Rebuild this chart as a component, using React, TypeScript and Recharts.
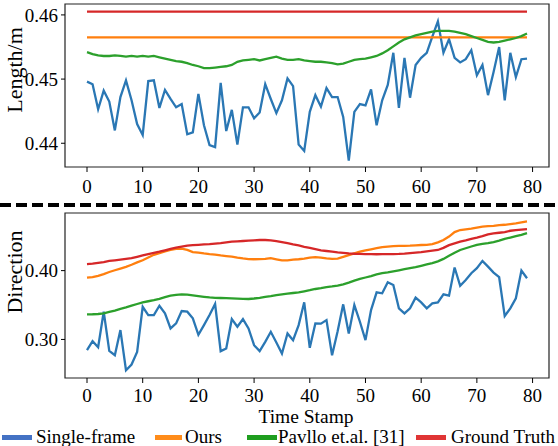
import React from 'react';
import { Line, LineChart, ReferenceArea, XAxis, YAxis } from 'recharts';

// top panel: bone length (m)
const singleLen = [
  0.4496, 0.4492, 0.4453, 0.4482, 0.4465, 0.4420, 0.4472, 0.4498, 0.4467, 0.4430,
  0.4413, 0.4497, 0.4498, 0.4455, 0.4483, 0.4469, 0.4456, 0.4461, 0.4414, 0.4417,
  0.4477, 0.4428, 0.4397, 0.4394, 0.4494, 0.4419, 0.4452, 0.4398, 0.4456, 0.4456,
  0.4439, 0.4448, 0.4492, 0.4469, 0.4447, 0.4467, 0.4501, 0.4489, 0.4398, 0.4388,
  0.4449, 0.4475, 0.4457, 0.4486, 0.4472, 0.4472, 0.4441, 0.4373, 0.4449, 0.4461,
  0.4459, 0.4484, 0.4428, 0.4467, 0.4491, 0.4541, 0.4455, 0.4533, 0.4471, 0.4522,
  0.4533, 0.4541, 0.4566, 0.4590, 0.4541, 0.4562, 0.4533, 0.4526, 0.4531, 0.4545,
  0.4506, 0.4522, 0.4475, 0.4511, 0.4550, 0.4467, 0.4541, 0.4503, 0.4531, 0.4532,
];
const pavlloLen = [
  0.4542, 0.4539, 0.4537, 0.4536, 0.4536, 0.4537, 0.4536, 0.4535, 0.4536, 0.4535,
  0.4536, 0.4535, 0.4536, 0.4534, 0.4532, 0.4530, 0.4528, 0.4527, 0.4525, 0.4522,
  0.4520, 0.4517, 0.4517, 0.4518, 0.4519, 0.4520, 0.4522, 0.4527, 0.4529, 0.4530,
  0.4531, 0.4529, 0.4531, 0.4533, 0.4535, 0.4532, 0.4530, 0.4530, 0.4531, 0.4529,
  0.4528, 0.4527, 0.4527, 0.4526, 0.4525, 0.4523, 0.4524, 0.4527, 0.4530, 0.4531,
  0.4532, 0.4534, 0.4536, 0.4540, 0.4545, 0.4551, 0.4557, 0.4562, 0.4565, 0.4568,
  0.4570, 0.4572, 0.4574, 0.4575, 0.4575, 0.4575, 0.4574, 0.4572, 0.4570, 0.4567,
  0.4564, 0.4561, 0.4558, 0.4557, 0.4558, 0.4560, 0.4562, 0.4564, 0.4567, 0.4571,
];
const oursLen = 0.4565;
const truthLen = 0.4605;

// bottom panel: direction
const singleDir = [
  0.2844, 0.2975, 0.2887, 0.3403, 0.2834, 0.2771, 0.3136, 0.2553, 0.2636, 0.2820,
  0.3475, 0.3354, 0.3354, 0.3490, 0.3379, 0.3160, 0.3233, 0.3412, 0.3403, 0.3306,
  0.3068, 0.3208, 0.3354, 0.3515, 0.2830, 0.2869, 0.3296, 0.3184, 0.3296, 0.3160,
  0.2917, 0.2830, 0.2965, 0.3111, 0.2956, 0.2796, 0.3087, 0.2990, 0.3208, 0.3539,
  0.2878, 0.3233, 0.3230, 0.3281, 0.2770, 0.3120, 0.3510, 0.3087, 0.3500, 0.3257,
  0.2990, 0.3427, 0.3685, 0.3670, 0.3831, 0.3790, 0.3452, 0.3379, 0.3452, 0.3607,
  0.3539, 0.3452, 0.3525, 0.3539, 0.3656, 0.3636, 0.4045, 0.3780, 0.3864, 0.3962,
  0.4035, 0.4141, 0.4058, 0.3971, 0.3904, 0.3340, 0.3452, 0.3598, 0.4000, 0.3889,
];
const oursDir = [
  0.3898, 0.3905, 0.3925, 0.3950, 0.3980, 0.4005, 0.4030, 0.4055, 0.4085, 0.4120,
  0.4150, 0.4190, 0.4230, 0.4255, 0.4280, 0.4300, 0.4315, 0.4320, 0.4300, 0.4270,
  0.4262, 0.4250, 0.4240, 0.4232, 0.4220, 0.4212, 0.4204, 0.4190, 0.4178, 0.4168,
  0.4165, 0.4168, 0.4170, 0.4180, 0.4165, 0.4150, 0.4148, 0.4160, 0.4165, 0.4175,
  0.4190, 0.4195, 0.4188, 0.4178, 0.4170, 0.4175, 0.4200, 0.4225, 0.4250, 0.4275,
  0.4295, 0.4310, 0.4325, 0.4340, 0.4350, 0.4355, 0.4358, 0.4360, 0.4362, 0.4368,
  0.4372, 0.4375, 0.4385, 0.4410, 0.4445, 0.4495, 0.4560, 0.4590, 0.4600, 0.4610,
  0.4625, 0.4640, 0.4645, 0.4650, 0.4660, 0.4666, 0.4675, 0.4685, 0.4700, 0.4714,
];
const pavlloDir = [
  0.3364, 0.3366, 0.3370, 0.3380, 0.3400, 0.3420, 0.3445, 0.3465, 0.3490, 0.3515,
  0.3540, 0.3555, 0.3570, 0.3590, 0.3615, 0.3636, 0.3648, 0.3656, 0.3650, 0.3640,
  0.3630, 0.3620, 0.3610, 0.3605, 0.3602, 0.3600, 0.3598, 0.3594, 0.3590, 0.3588,
  0.3595, 0.3605, 0.3620, 0.3630, 0.3645, 0.3656, 0.3665, 0.3675, 0.3685, 0.3700,
  0.3715, 0.3733, 0.3745, 0.3760, 0.3770, 0.3782, 0.3800, 0.3825, 0.3855, 0.3880,
  0.3900, 0.3920, 0.3945, 0.3962, 0.3975, 0.3990, 0.4005, 0.4020, 0.4035, 0.4050,
  0.4070, 0.4090, 0.4110, 0.4135, 0.4170, 0.4215, 0.4260, 0.4300, 0.4325, 0.4350,
  0.4375, 0.4390, 0.4400, 0.4415, 0.4435, 0.4460, 0.4480, 0.4500, 0.4520, 0.4545,
];
const truthDir = [
  0.4093, 0.4100, 0.4112, 0.4125, 0.4140, 0.4150, 0.4160, 0.4170, 0.4180, 0.4200,
  0.4220, 0.4239, 0.4258, 0.4275, 0.4295, 0.4315, 0.4335, 0.4350, 0.4364, 0.4370,
  0.4375, 0.4380, 0.4385, 0.4392, 0.4400, 0.4410, 0.4420, 0.4425, 0.4430, 0.4435,
  0.4440, 0.4445, 0.4445, 0.4440, 0.4430, 0.4415, 0.4398, 0.4380, 0.4365, 0.4345,
  0.4330, 0.4312, 0.4295, 0.4285, 0.4275, 0.4265, 0.4258, 0.4250, 0.4245, 0.4242,
  0.4240, 0.4239, 0.4238, 0.4239, 0.4240, 0.4241, 0.4243, 0.4248, 0.4255, 0.4262,
  0.4270, 0.4280, 0.4290, 0.4300, 0.4330, 0.4370, 0.4395, 0.4420, 0.4440, 0.4462,
  0.4480, 0.4500, 0.4525, 0.4540, 0.4550, 0.4560, 0.4579, 0.4588, 0.4596, 0.4604,
];

const xTicks = [0, 10, 20, 30, 40, 50, 60, 70, 80];
const lenTicks = [0.44, 0.45, 0.46];
const dirTicks = [0.3, 0.4];

const legendItems = [
  { name: 'Single-frame', color: '#4472c4', sx: 2, sw: 30, tx: 36 },
  { name: 'Ours', color: '#ff8c1a', sx: 155, sw: 27, tx: 185 },
  { name: 'Pavllo et.al. [31]', color: '#1f9e1f', sx: 247, sw: 30, tx: 278 },
  { name: 'Ground Truth', color: '#e03535', sx: 416, sw: 30, tx: 451 },
];

const C = { blue: '#2a77b4', orange: '#ff7f0e', green: '#2ca02c', red: '#d62728' };
const FONT = '"Liberation Serif", "Times New Roman", serif';
const X_DOMAIN: [number, number] = [-3.95, 82.95];
const LEN_DOMAIN: [number, number] = [0.4363, 0.4617];
const DIR_DOMAIN: [number, number] = [0.244, 0.4837];

const lenData = singleLen.map((v, i) => ({
  t: i,
  single: v,
  ours: oursLen,
  pavllo: pavlloLen[i],
  truth: truthLen,
}));
const dirData = singleDir.map((v, i) => ({
  t: i,
  single: v,
  ours: oursDir[i],
  pavllo: pavlloDir[i],
  truth: truthDir[i],
}));

const tickStyle = { fill: '#000', fontSize: 19, fontFamily: FONT };

const Panel: React.FC<{
  data: typeof lenData;
  domain: [number, number];
  ticks: number[];
  xHeight: number;
  xMargin: number;
}> = ({ data, domain, ticks, xHeight, xMargin }) => (
  <LineChart width={558} height={200} data={data} margin={{ top: 4, right: 9, bottom: 0, left: 0 }}>
    <XAxis
      dataKey="t"
      type="number"
      domain={X_DOMAIN}
      ticks={xTicks}
      allowDataOverflow
      height={xHeight}
      tick={tickStyle}
      tickSize={5}
      tickMargin={xMargin}
      axisLine={false}
      tickLine={{ stroke: '#000' }}
    />
    <YAxis
      type="number"
      domain={domain}
      ticks={ticks}
      allowDataOverflow
      width={65}
      tick={tickStyle}
      tickSize={4}
      tickMargin={3}
      axisLine={false}
      tickLine={{ stroke: '#000' }}
      tickFormatter={(v: number) => v.toFixed(2)}
    />
    <Line type="linear" dataKey="single" stroke={C.blue} strokeWidth={2.3} dot={false} isAnimationActive={false} />
    <Line type="linear" dataKey="ours" stroke={C.orange} strokeWidth={2.3} dot={false} isAnimationActive={false} />
    <Line type="linear" dataKey="pavllo" stroke={C.green} strokeWidth={2.3} dot={false} isAnimationActive={false} />
    <Line type="linear" dataKey="truth" stroke={C.red} strokeWidth={2.3} dot={false} isAnimationActive={false} />
    <ReferenceArea
      x1={X_DOMAIN[0]}
      x2={X_DOMAIN[1]}
      y1={domain[0]}
      y2={domain[1]}
      fill="none"
      stroke="#222"
      strokeWidth={1.2}
      ifOverflow="visible"
    />
  </LineChart>
);

export default function App() {
  return (
    <div style={{ position: 'absolute', left: 0, top: 0, width: 558, height: 446, background: '#fff', overflow: 'hidden' }}>
      <div style={{ position: 'absolute', left: 0, top: 0 }}>
        <Panel data={lenData} domain={LEN_DOMAIN} ticks={lenTicks} xHeight={33} xMargin={8} />
      </div>
      <div style={{ position: 'absolute', left: 0, top: 209 }}>
        <Panel data={dirData} domain={DIR_DOMAIN} ticks={dirTicks} xHeight={31} xMargin={6} />
      </div>
      <svg width={558} height={446} style={{ position: 'absolute', left: 0, top: 0, pointerEvents: 'none' }}>
        <line x1={0} y1={205} x2={558} y2={205} stroke="#000" strokeWidth={4} strokeDasharray="11 5" />
        <text
          transform="translate(22,70) rotate(-90)"
          textAnchor="middle"
          fontFamily={FONT}
          fontSize={22}
          fill="#000"
        >
          Length/m
        </text>
        <text
          transform="translate(22,272) rotate(-90)"
          textAnchor="middle"
          fontFamily={FONT}
          fontSize={22}
          fill="#000"
        >
          Direction
        </text>
        <text x={306} y={423} textAnchor="middle" fontFamily={FONT} fontSize={19.5} fill="#000">
          Time Stamp
        </text>
        {legendItems.map((it) => (
          <g key={it.name}>
            <rect x={it.sx} y={435} width={it.sw} height={5} fill={it.color} />
            <text x={it.tx} y={443} fontFamily={FONT} fontSize={19} fill="#000">
              {it.name}
            </text>
          </g>
        ))}
      </svg>
    </div>
  );
}
